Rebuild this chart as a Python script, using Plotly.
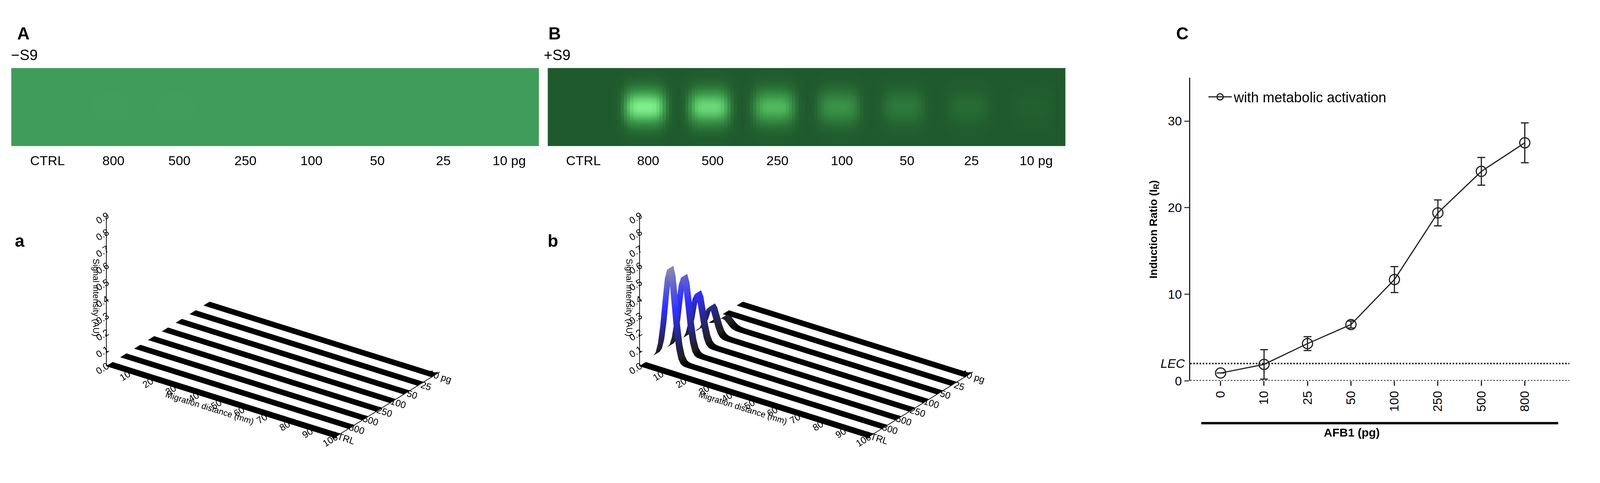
import numpy as np
import plotly.graph_objects as go

W, H = 4296, 1237
ZOOM = 1.055  # compensate for page rendering scale

# ---- data ----
lanes = ["CTRL", "800", "500", "250", "100", "50", "25", "10 pg"]
gel_lane_labels = ["CTRL", "800", "500", "250", "100", "50", "25", "10 pg"]
band_minus_s9 = [0.0, 0.02, 0.02, 0.01, 0.01, 0.0, 0.0, 0.0]
band_plus_s9 = [0.0, 1.0, 0.85, 0.65, 0.40, 0.22, 0.12, 0.04]
peak_minus_s9 = [0.0, 0.0, 0.0, 0.0, 0.0, 0.0, 0.0, 0.0]
peak_plus_s9 = [0.0, 0.55, 0.45, 0.30, 0.17, 0.05, 0.0, 0.0]
z_ticks = [0.0, 0.1, 0.2, 0.3, 0.4, 0.5, 0.6, 0.7, 0.8, 0.9]
mig_ticks = [10, 20, 30, 40, 50, 60, 70, 80, 90, 100]

afb1_cats = ["0", "10", "25", "50", "100", "250", "500", "800"]
ir_values = [0.9, 1.9, 4.3, 6.5, 11.7, 19.4, 24.2, 27.5]
ir_errors = [0.0, 1.7, 0.8, 0.4, 1.5, 1.5, 1.6, 2.3]
lec_value = 2.0

def px(x): return x / W
def py(y): return 1 - y / H

fig = go.Figure()

# ---- gels (heatmaps) ----
gel_x = np.linspace(0, 8, 161)
gel_y = np.linspace(0, 1, 41)
def gel(bands):
    z = np.zeros((len(gel_y), len(gel_x)))
    for i, b in enumerate(bands):
        cx = i + 0.5
        z += b * np.exp(-((gel_x[None, :] - cx) / 0.32) ** 4) * np.exp(-((gel_y[:, None] - 0.5) / 0.22) ** 2)
    return z

fig.add_trace(go.Heatmap(x=gel_x, y=gel_y, z=gel(band_minus_s9), zmin=0, zmax=1,
                         colorscale=[[0, "#3f9c5a"], [1, "#6ad07f"]], showscale=False,
                         xaxis="x2", yaxis="y2", hoverinfo="skip"))
fig.add_trace(go.Heatmap(x=gel_x, y=gel_y, z=gel(band_plus_s9), zmin=0, zmax=1,
                         colorscale=[[0, "#1f5a2c"], [0.5, "#3fa04e"], [1, "#7ef08a"]], showscale=False,
                         xaxis="x3", yaxis="y3", hoverinfo="skip"))
for ax, dom in (("2", (22, 1447)), ("3", (1471, 2869))):
    fig.update_layout(**{
        f"xaxis{ax}": dict(domain=[px(dom[0]), px(dom[1])], range=[0, 8], visible=False, anchor=f"y{ax}"),
        f"yaxis{ax}": dict(domain=[py(392), py(178)], range=[0, 1], visible=False, anchor=f"x{ax}"),
    })
    for i, lab in enumerate(gel_lane_labels):
        fig.add_annotation(xref=f"x{ax}", yref="paper", x=i + 0.55, y=py(432), text=lab,
                           showarrow=False, font=dict(size=34, color="black"))

# ---- 3D ribbons ----
mig = np.arange(0, 101, 1.0)
def add_ribbons(peaks, scene):
    for i, p in enumerate(peaks):
        prof = p * np.exp(-((mig - 6) / 3.0) ** 2)
        z = np.vstack([prof, prof])
        yy = np.array([i, i + 0.45])
        sc = np.vstack([prof, prof]) / 0.6
        if p > 0:
            cs = [[0, "black"], [0.05, "#202020"], [0.5, "#3030ff"], [1, "#9a9a9a"]]
        else:
            cs = [[0, "black"], [1, "black"]]
        fig.add_trace(go.Surface(x=mig, y=yy, z=z, surfacecolor=sc, cmin=0, cmax=1,
                                 colorscale=cs, showscale=False, scene=scene, hoverinfo="skip",
                                 lighting=dict(ambient=1, diffuse=0, specular=0)))

add_ribbons(peak_minus_s9, "scene")
add_ribbons(peak_plus_s9, "scene2")

def scene_cfg(dom):
    common = dict(showgrid=False, showbackground=False, showline=True, linecolor="black",
                  linewidth=4, zeroline=False, tickfont=dict(size=17), showspikes=False)
    return dict(
        domain=dict(x=[px(dom[0]), px(dom[1])], y=[py(1237), py(470)]),
        xaxis=dict(title=dict(text="Migration distance (mm)", font=dict(size=22)), range=[0, 100],
                   tickvals=mig_ticks, **common),
        yaxis=dict(title=dict(text=""), range=[0, 7.6], tickvals=[i + 0.2 for i in range(8)],
                   ticktext=lanes, **common),
        zaxis=dict(title=dict(text="Signal intensity (AU)", font=dict(size=22)), range=[0, 0.9],
                   tickvals=z_ticks, tickformat=".1f", **common),
        aspectmode="manual", aspectratio=dict(x=2.0, y=1.3, z=1.2),
        camera=dict(eye=dict(x=1.4, y=-1.9, z=1.0), center=dict(x=0.05, y=0, z=-0.15),
                    projection=dict(type="orthographic")),
        bgcolor="white",
    )

# ---- panel C ----
fig.add_trace(go.Scatter(x=afb1_cats, y=ir_values, mode="lines+markers",
                         name="with metabolic activation",
                         line=dict(color="#222", width=3),
                         marker=dict(symbol="circle-open", size=26, color="#222", line=dict(width=3)),
                         error_y=dict(type="data", array=ir_errors, color="#222", thickness=3, width=10),
                         xaxis="x", yaxis="y"))

fig.update_layout(
    width=round(W / ZOOM), height=round(H / ZOOM), margin=dict(l=0, r=0, t=0, b=0),
    paper_bgcolor="white", plot_bgcolor="white",
    font=dict(family="Liberation Sans, Arial", color="black"),
    scene=scene_cfg((30, 1460)),
    scene2=scene_cfg((1470, 2900)),
    xaxis=dict(domain=[px(3206), px(4206)], range=[-0.7, 7.82], type="category",
               showline=False, ticks="outside", ticklen=12, tickwidth=3, tickcolor="#222",
               tickangle=-90, tickfont=dict(size=32), anchor="y", showgrid=False),
    yaxis=dict(domain=[py(1036), py(205)], range=[0, 35], tickvals=[0, 10, 20, 30],
               showline=True, linecolor="#222", linewidth=3, ticks="outside", ticklen=12,
               tickwidth=3, tickfont=dict(size=32), showgrid=False, zeroline=False,
               title=dict(text="<b>Induction Ratio (I<sub>R</sub>)</b>", font=dict(size=28), standoff=20)),
    showlegend=True,
    legend=dict(x=px(3250), y=py(225), xanchor="left", yanchor="top", font=dict(size=36),
                bgcolor="rgba(0,0,0,0)", itemwidth=60),
)

# dotted lines in C
for yv in (0, lec_value):
    fig.add_shape(type="line", xref="paper", yref="y", x0=px(3206), x1=px(4230), y0=yv, y1=yv,
                  line=dict(color="#222", width=4, dash="dot"))
fig.add_annotation(xref="paper", yref="y", x=px(3195), y=lec_value, text="<i>LEC</i>",
                   xanchor="right", showarrow=False, font=dict(size=32))
fig.add_shape(type="line", xref="paper", yref="paper", x0=px(3236), x1=px(4200),
              y0=py(1152), y1=py(1152), line=dict(color="black", width=6))
fig.add_annotation(xref="paper", yref="paper", x=px(3720), y=py(1197), text="<b>AFB1 (pg)</b>",
                   showarrow=False, font=dict(size=30))

# panel letters / labels
for x, y, t, s in ((55, 55, "<b>A</b>", 44), (1490, 55, "<b>B</b>", 44), (3185, 55, "<b>C</b>", 44),
                   (58, 118, "\u2212S9", 38), (1497, 118, "+S9", 38),
                   (45, 652, "<b>a</b>", 44), (1485, 652, "<b>b</b>", 44)):
    fig.add_annotation(xref="paper", yref="paper", x=px(x), y=py(y), text=t, showarrow=False,
                       font=dict(size=s), xanchor="center")

fig.write_html("out.html")
